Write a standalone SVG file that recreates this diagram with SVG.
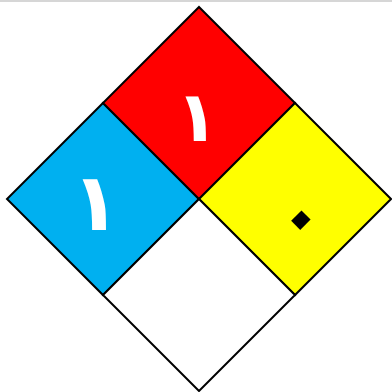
<svg xmlns="http://www.w3.org/2000/svg" width="392" height="392" viewBox="0 0 392 392">
<style>
.q{stroke:#000;stroke-width:2;stroke-linejoin:miter}
.d{font-family:"DejaVu Sans",sans-serif;font-weight:bold;text-anchor:middle}
</style>
<rect x="0" y="0" width="392" height="392" fill="#fff"/>
<rect x="0" y="0" width="392" height="2" fill="#d6d6d6"/>
<g id="health"><polygon class="q" fill="#00b0f0" points="103,103 199,199 103,295 7,199"/><text class="d" x="96" y="230" font-size="80" fill="#fff">١</text></g>
<g id="flammability"><polygon class="q" fill="#ff0000" points="199,7 295,103 199,199 103,103"/><text class="d" x="197" y="141" font-size="70" fill="#fff">١</text></g>
<g id="instability"><polygon class="q" fill="#ffff00" points="295,103 391,199 295,295 199,199"/><text x="301" y="254" transform="rotate(45 301 220)" font-family="DejaVu Sans, sans-serif" text-anchor="middle" font-size="120" fill="#000">٠</text></g>
<g id="special"><polygon class="q" fill="#fff" points="199,199 295,295 199,391 103,295"/></g>
</svg>
